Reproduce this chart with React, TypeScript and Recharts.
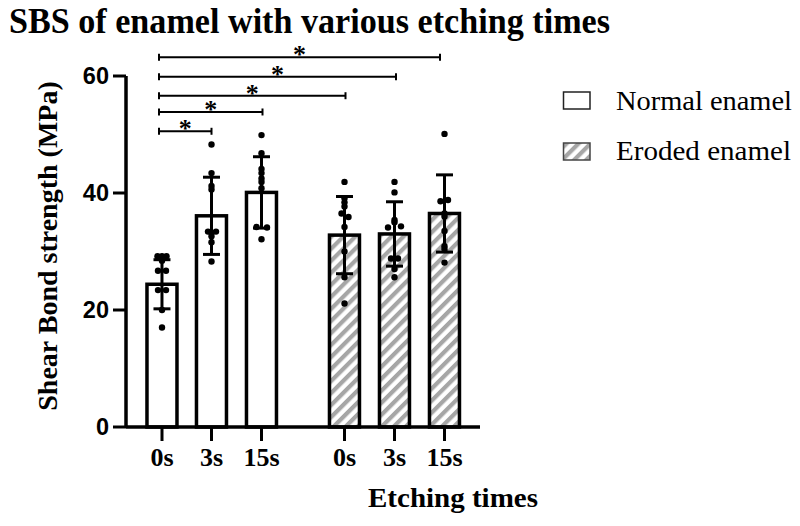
import React from 'react';
import {
  ComposedChart,
  Bar,
  Cell,
  ErrorBar,
  Scatter,
  XAxis,
  YAxis,
  ReferenceLine,
  Legend,
} from 'recharts';

// ---- data ----
const seriesNames = ['Normal enamel', 'Eroded enamel'];
const tickLabels = ['0s', '3s', '15s', '0s', '3s', '15s'];
const barPositions = [0.72, 1.71, 2.71, 4.37, 5.37, 6.37];
const barGroup = [0, 0, 0, 1, 1, 1];
const barMeans = [24.4, 36.1, 40.1, 32.8, 33.0, 36.5];
const barSD = [4.2, 6.6, 6.1, 6.6, 5.5, 6.6];

const dotValues = [
  [29.2, 29.2, 29.2, 28.4, 26.7, 26.7, 23.4, 23.4, 20.0, 17.0],
  [48.3, 43.4, 41.2, 40.6, 33.4, 33.4, 33.2, 32.6, 31.6, 28.3],
  [49.9, 46.8, 44.1, 43.4, 42.5, 41.9, 40.8, 34.2, 34.1, 32.1],
  [41.9, 39.1, 38.4, 37.7, 36.5, 35.9, 34.2, 30.0, 25.6, 21.1],
  [41.9, 40.1, 35.4, 35.0, 34.1, 34.3, 28.8, 28.8, 27.0, 25.6],
  [50.1, 38.6, 38.8, 36.5, 36.0, 33.5, 30.9, 30.4, 28.1],
];
const dotJitter = [
  [-0.09, 0, 0.09, 0, -0.08, 0.08, -0.08, 0.08, 0, 0],
  [0, 0, 0, 0, -0.07, 0.09, 0, 0, 0, 0],
  [0, 0, 0, 0, 0, 0, 0, -0.1, 0.11, 0],
  [0, 0, 0, 0, -0.06, 0.08, 0, 0, 0, 0],
  [0, 0, 0, 0, -0.13, 0.13, -0.07, 0.07, 0, 0],
  [0, -0.08, 0.07, 0, 0, 0, 0, 0, 0],
];

const sigFromX = 0.66;
const sigToX = [1.71, 2.73, 4.39, 5.4, 6.28];
const sigY = [50.55, 53.85, 56.63, 59.88, 63.2];
const sigLabel = ['*', '*', '*', '*', '*'];

const barData = barPositions.map((x, i) => ({
  x,
  mean: barMeans[i],
  sd: barSD[i],
}));

const dotData = dotValues.flatMap((vals, i) =>
  vals.map((v, j) => ({ x: barPositions[i] + dotJitter[i][j], mean: v }))
);

const SERIF = '"Liberation Serif", "Times New Roman", serif';
const SANS = '"Liberation Sans", Arial, sans-serif';
const BAR_W = 30;

const dotShape = (p: any) => <circle cx={p.cx} cy={p.cy} r={3.2} fill="#000" />;

const barShape = (p: any) => {
  const cx = p.x + (p.width || 0) / 2;
  const i = p.index;
  return (
    <rect
      x={cx - BAR_W / 2}
      y={p.y}
      width={BAR_W}
      height={p.height}
      fill={barGroup[i] === 0 ? '#fff' : 'url(#hatch)'}
      stroke="#000"
      strokeWidth={3.5}
    />
  );
};

const sigShape = (label: string) => (p: any) => {
  const { x1, y1, x2, y2 } = p;
  return (
    <g>
      <line x1={x1} y1={y1} x2={x2} y2={y2} stroke="#000" strokeWidth={2} />
      <line x1={x1} y1={y1 - 3.5} x2={x1} y2={y1 + 3.5} stroke="#000" strokeWidth={2} />
      <line x1={x2} y1={y2 - 3.5} x2={x2} y2={y2 + 3.5} stroke="#000" strokeWidth={2} />
      <text
        x={(x1 + x2) / 2}
        y={y1 + 6}
        textAnchor="middle"
        fontSize={26}
        fontWeight="bold"
        fontFamily={SERIF}
        fill="#000"
      >
        {label}
      </text>
    </g>
  );
};

const XTick = (p: any) => {
  const idx = barPositions.indexOf(p.payload.value);
  return (
    <text
      x={p.x}
      y={p.y + 23}
      textAnchor="middle"
      fontSize={26}
      fontWeight="bold"
      fontFamily={SERIF}
      fill="#000"
    >
      {tickLabels[idx] ?? ''}
    </text>
  );
};

const YTick = (p: any) => (
  <text
    x={p.x - 2}
    y={p.y + 8}
    textAnchor="end"
    fontSize={23.5}
    fontWeight="bold"
    fontFamily={SANS}
    fill="#000"
  >
    {p.payload.value}
  </text>
);

const LegendContent = () => (
  <svg width={245} height={100}>
    <defs>
      <pattern
        id="hatchLegend"
        patternUnits="userSpaceOnUse"
        width={8.5}
        height={8.5}
        patternTransform="rotate(45)"
      >
        <rect width={8.5} height={8.5} fill="#fff" />
        <rect width={4.2} height={8.5} fill="#a6a6a6" />
      </pattern>
    </defs>
    <rect x={8.5} y={12} width={26.5} height={17} fill="#fff" stroke="#222" strokeWidth={1.5} />
    <text x={61} y={29.5} fontSize={27} fontFamily={SERIF} fill="#000" textLength={176} lengthAdjust="spacingAndGlyphs">
      {seriesNames[0]}
    </text>
    <rect x={8.5} y={63} width={26.5} height={17} fill="url(#hatchLegend)" stroke="#444" strokeWidth={1.5} />
    <text x={61} y={80} fontSize={27} fontFamily={SERIF} fill="#000" textLength={175} lengthAdjust="spacingAndGlyphs">
      {seriesNames[1]}
    </text>
  </svg>
);

export default function App() {
  return (
    <div
      style={{
        position: 'absolute',
        left: 0,
        top: 0,
        width: 800,
        height: 526,
        background: '#fff',
      }}
    >
      <svg
        width={800}
        height={50}
        style={{ position: 'absolute', left: 0, top: 0 }}
      >
        <text
          x={9}
          y={33}
          fontSize={35}
          fontWeight="bold"
          fontFamily={SERIF}
          fill="#000"
          textLength={601}
          lengthAdjust="spacingAndGlyphs"
        >
          SBS of enamel with various etching times
        </text>
      </svg>
      <div style={{ position: 'absolute', left: 0, top: 0 }}>
        <ComposedChart
          width={800}
          height={526}
          data={barData}
          margin={{ top: 76, right: 320, bottom: 39, left: 26 }}
        >
          <defs>
            <pattern
              id="hatch"
              patternUnits="userSpaceOnUse"
              width={8.5}
              height={8.5}
              patternTransform="rotate(45)"
            >
              <rect width={8.5} height={8.5} fill="#fff" />
              <rect width={4.2} height={8.5} fill="#a6a6a6" />
            </pattern>
          </defs>
          <XAxis
            type="number"
            dataKey="x"
            domain={[0, 7.08]}
            ticks={barPositions}
            interval={0}
            height={60}
            tickSize={14}
            axisLine={{ stroke: '#000', strokeWidth: 3.5 }}
            tickLine={{ stroke: '#000', strokeWidth: 3 }}
            tick={XTick}
            label={{
              content: () => (
                <text
                  x={453}
                  y={507}
                  textAnchor="middle"
                  fontSize={27}
                  fontWeight="bold"
                  fontFamily={SERIF}
                  fill="#000"
                  textLength={170}
                  lengthAdjust="spacingAndGlyphs"
                >
                  Etching times
                </text>
              ),
            }}
          />
          <YAxis
            dataKey="mean"
            type="number"
            domain={[0, 60]}
            ticks={[0, 20, 40, 60]}
            width={100}
            tickSize={13}
            axisLine={{ stroke: '#000', strokeWidth: 3.5 }}
            tickLine={{ stroke: '#000', strokeWidth: 3 }}
            tick={YTick}
            label={{
              content: () => (
                <text
                  transform="translate(57,246) rotate(-90)"
                  textAnchor="middle"
                  fontSize={28}
                  fontWeight="bold"
                  fontFamily={SERIF}
                  fill="#000"
                >
                  Shear Bond strength (MPa)
                </text>
              ),
            }}
          />
          <Bar
            dataKey="mean"
            barSize={BAR_W}
            shape={barShape}
            isAnimationActive={false}
          >
            {barData.map((d, i) => (
              <Cell key={i} fill={barGroup[i] === 0 ? '#fff' : 'url(#hatch)'} />
            ))}
            <ErrorBar
              dataKey="sd"
              width={8.5}
              stroke="#000"
              strokeWidth={3}
              direction="y"
            />
          </Bar>
          <Scatter
            data={dotData}
            dataKey="mean"
            shape={dotShape}
            isAnimationActive={false}
          />
          {sigToX.map((x2, i) => (
            <ReferenceLine
              key={i}
              segment={[
                { x: sigFromX, y: sigY[i] },
                { x: x2, y: sigY[i] },
              ]}
              ifOverflow="visible"
              shape={sigShape(sigLabel[i])}
            />
          ))}
          <Legend
            layout="horizontal"
            verticalAlign="middle"
            align="center"
            content={LegendContent}
            wrapperStyle={{ position: 'absolute', left: 555, top: 80, width: 245, height: 100 }}
          />
        </ComposedChart>
      </div>
    </div>
  );
}
